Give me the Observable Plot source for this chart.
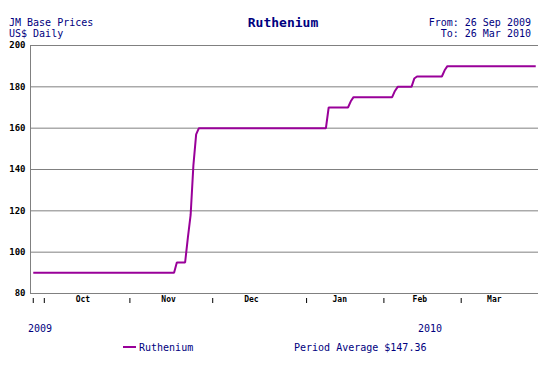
<!DOCTYPE html>
<html>
<head>
<meta charset="utf-8">
<script src="https://cdn.jsdelivr.net/npm/d3@7"></script>
<script src="https://cdn.jsdelivr.net/npm/@observablehq/plot@0.6"></script>
<style>
  html, body { margin: 0; padding: 0; background: #fff; }
  #wrap { position: relative; width: 550px; height: 370px; overflow: hidden; font-family: "DejaVu Sans Mono", monospace; color: #000080; }
  .t { position: absolute; font-size: 10px; line-height: 11px; white-space: pre; }
  #title { position: absolute; left: 283px; top: 15px; transform: translateX(-50%); font-size: 13px; line-height: 15px; font-weight: bold; white-space: pre; }
  #chart { position: absolute; left: 0; top: 38px; }
  #legline { position: absolute; left: 123px; top: 346px; width: 13px; height: 2px; background: #990099; }
</style>
</head>
<body>
<div id="wrap">
  <div class="t" style="left:9px; top:17px;">JM Base Prices<br>US$ Daily</div>
  <div id="title">Ruthenium</div>
  <div class="t" style="right:19px; top:17px; text-align:right;">From: 26 Sep 2009<br>To: 26 Mar 2010</div>
  <div id="chart"></div>
  <div class="t" id="y0" style="left:28px; top:323px;"></div>
  <div class="t" id="y1" style="left:418px; top:323px;"></div>
  <div id="legline"></div>
  <div class="t" id="legtext" style="left:139px; top:342px;"></div>
  <div class="t" id="avg" style="left:294px; top:342px;"></div>
</div>
<script>
// ---- data ----
const seriesName = "Ruthenium";
const dates = ["2009-09-27","2009-11-17","2009-11-18","2009-11-21","2009-11-22","2009-11-23","2009-11-24","2009-11-25","2009-11-26",
  "2010-01-11","2010-01-12","2010-01-19","2010-01-20","2010-01-21","2010-02-04","2010-02-05","2010-02-06",
  "2010-02-11","2010-02-12","2010-02-13","2010-02-22","2010-02-23","2010-02-24","2010-03-28"];
const prices = [90,90,95,95,107,118,142,157,160,
  160,170,170,173,175,175,178,180,
  180,184,185,185,188,190,190];
const yTicks = [80,100,120,140,160,180,200];
const xTickDates = ["2009-09-27","2009-10-01","2009-11-01","2009-12-01","2010-01-04","2010-02-01","2010-03-01"];
const monthLabels = ["Oct","Nov","Dec","Jan","Feb","Mar"];
const monthLabelDates = ["2009-10-15","2009-11-15","2009-12-15","2010-01-16","2010-02-14","2010-03-13"];
const yearLabels = ["2009","2010"];
const xDomain = ["2009-09-26","2010-03-29"];
const periodAverage = "$147.36";

// ---- build ----
const toDate = s => new Date(s + "T00:00:00Z");
const data = dates.map((d, i) => ({date: toDate(d), price: prices[i]}));
const months = monthLabels.map((m, i) => ({date: toDate(monthLabelDates[i]), label: m}));
const mono = "DejaVu Sans Mono, monospace";

const chart = Plot.plot({
  width: 550,
  height: 280,
  marginLeft: 30,
  marginRight: 12,
  marginTop: 7,
  marginBottom: 25,
  style: {background: "transparent", fontFamily: mono, overflow: "visible"},
  x: {type: "utc", domain: xDomain.map(toDate)},
  y: {domain: [80, 200]},
  marks: [
    Plot.ruleY(yTicks, {stroke: "#808080", strokeWidth: 1}),
    Plot.ruleX([toDate(xDomain[0])], {stroke: "#808080", strokeWidth: 1}),
    Plot.line(data, {x: "date", y: "price", stroke: "#990099", strokeWidth: 2, strokeLinejoin: "miter", strokeLinecap: "butt"}),
    Plot.axisY(yTicks, {tickSize: 0, tickPadding: 5, fontSize: 9, fontWeight: "bold", fill: "black", label: null, tickFormat: d => String(d)}),
    Plot.axisX(xTickDates.map(toDate), {tickSize: 5, dy: 5, stroke: "black", tickFormat: () => "", label: null}),
    Plot.text(months, {x: "date", text: "label", frameAnchor: "bottom", dy: 8, fontSize: 8, fontWeight: "bold", fill: "black", fontFamily: mono})
  ]
});
document.getElementById("chart").appendChild(chart);
document.getElementById("y0").textContent = yearLabels[0];
document.getElementById("y1").textContent = yearLabels[1];
document.getElementById("legtext").textContent = seriesName;
document.getElementById("avg").textContent = "Period Average " + periodAverage;
</script>
</body>
</html>
